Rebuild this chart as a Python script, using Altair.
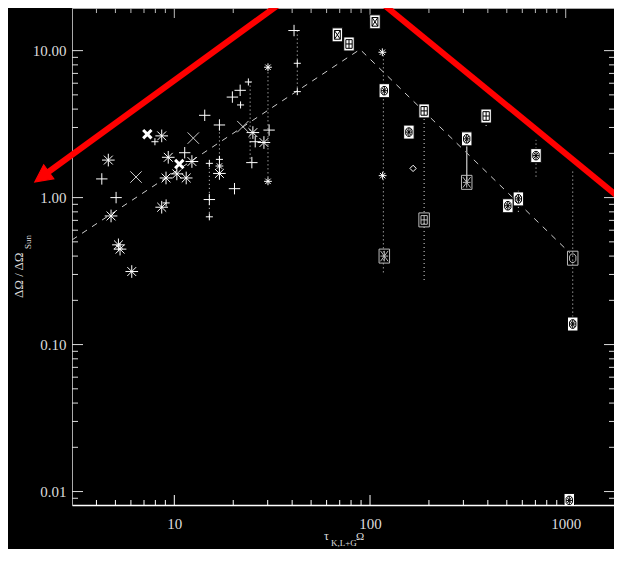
import altair as alt
import pandas as pd

# ---------------- data ----------------
plus_x = [4.26, 5.04, 11.3, 14.3, 15.1, 17.0, 19.8, 21.7, 20.3, 24.9, 25.9, 30.5, 40.9]
plus_y = [1.34, 1.00, 2.02, 3.63, 0.97, 3.12, 4.83, 5.37, 1.15, 1.73, 2.40, 2.88, 13.7]
plus_small_x = [7.96, 9.08, 15.1, 15.1, 17.0, 21.8, 23.9, 42.5, 42.5]
plus_small_y = [2.40, 0.92, 1.71, 0.74, 1.82, 4.27, 6.12, 8.2, 5.26]
star_x = [4.60, 4.75, 5.18, 5.28, 6.06, 8.62, 8.62, 9.31, 9.07, 10.3, 11.5, 12.3, 17.0, 25.2, 28.7]
star_y = [1.80, 0.75, 0.477, 0.446, 0.314, 2.63, 0.86, 1.88, 1.36, 1.45, 1.36, 1.76, 1.46, 2.77, 2.37]
star_small_x = [17.0, 30.1, 30.1, 115.6, 116.0]
star_small_y = [1.64, 7.71, 1.29, 9.75, 1.41]
cross_x = [6.37, 12.5, 22.4]
cross_y = [1.38, 2.54, 3.04]
cross_bold_x = [7.28, 10.6]
cross_bold_y = [2.70, 1.69]
box_x_x = [68.1, 106.0]
box_x_y = [12.8, 15.7]
box_grid_x = [78.1, 189.0, 392.0]
box_grid_y = [11.1, 3.89, 3.59]
box_oct_x = [118.3, 158.0, 312.0, 705.0, 573.0, 506.0, 1086.0, 1043.0]
box_oct_y = [5.34, 2.79, 2.51, 1.93, 0.98, 0.88, 0.138, 0.0087]
open_star_x = [118.3, 312.0]
open_star_y = [0.40, 1.27]
open_grid_x = [189.0]
open_grid_y = [0.705]
open_oct_x = [1086.0]
open_oct_y = [0.387]
diamond_x = [166.0]
diamond_y = [1.58]

range_x = [15.1, 17.0, 24.4, 30.1, 42.5, 117.0, 189.0, 392.0, 705.0, 573.0, 1086.0]
range_lo = [0.74, 1.46, 1.73, 1.29, 5.26, 0.31, 0.275, 3.07, 1.39, 0.80, 0.155]
range_hi = [1.71, 3.12, 6.12, 7.71, 13.7, 9.75, 3.89, 4.08, 2.47, 1.16, 1.53]
link_x = [312.0]
link_lo = [1.27]
link_hi = [2.51]

fit_x = [3.0, 88.9, 1050.0]
fit_y = [0.515, 10.2, 0.42]

x_major = [10, 100, 1000]
x_minor = [4, 5, 6, 7, 8, 9, 20, 30, 40, 50, 60, 70, 80, 90,
           200, 300, 400, 500, 600, 700, 800, 900]
y_major = [0.01, 0.1, 1, 10]
y_minor = [0.009, 0.02, 0.03, 0.04, 0.05, 0.06, 0.07, 0.08, 0.09,
           0.2, 0.3, 0.4, 0.5, 0.6, 0.7, 0.8, 0.9,
           2, 3, 4, 5, 6, 7, 8, 9]

# ---------------- layout / styles ----------------
W, H = 542, 497
FONT = "Liberation Serif"
xs = alt.Scale(type="log", domain=[3, 1765], nice=False)
ys = alt.Scale(type="log", domain=[0.0081, 19.5], nice=False)
xaxis = alt.Axis(values=x_major, format="d", ticks=False, grid=False, domain=True,
                 domainColor="#ffffff", domainWidth=1.5, labelColor="#dddddd",
                 labelFont=FONT, labelFontSize=15, labelPadding=11, title=None,
                 labelFlush=False, labelOverlap=False)
yaxis = alt.Axis(values=y_major, format=".2f", ticks=False, grid=False, domain=True,
                 domainColor="#aaaaaa", labelColor="#dddddd", labelFont=FONT,
                 labelFontSize=15, labelPadding=6, title=None, labelOverlap=False)


def X(f="x"):
    return alt.X(f + ":Q", scale=xs, axis=xaxis)


def Y(f="y"):
    return alt.Y(f + ":Q", scale=ys, axis=yaxis)


PLUS = "M-1,0L1,0M0,-1L0,1"
STAR = "M-1,0L1,0M0,-1L0,1M-0.7,-0.7L0.7,0.7M-0.7,0.7L0.7,-0.7"
XSH = "M-1,-1L1,1M-1,1L1,-1"
BOX = "M-0.75,-1H0.75V1H-0.75Z"
BOX_X = BOX + "M-0.42,-0.62H0.42V0.62H-0.42ZM-0.42,-0.62L0.42,0.62M0.42,-0.62L-0.42,0.62"
BOX_GRID = BOX + "M-0.45,-0.62H0.45V0.62H-0.45ZM0,-0.62V0.62M-0.45,0H0.45"
OCT = "M-0.2,-0.6L0.2,-0.6L0.45,-0.3L0.45,0.3L0.2,0.6L-0.2,0.6L-0.45,0.3L-0.45,-0.3Z"
BOX_OCT = BOX + OCT + "M0,-0.6V0.6M-0.45,0H0.45M-0.3,-0.4L0.3,0.4M-0.3,0.4L0.3,-0.4"
BOX_OPEN_STAR = BOX + "M0,-0.75V0.75M-0.55,0H0.55M-0.55,-0.75L0.55,0.75M-0.55,0.75L0.55,-0.75"
BOX_OPEN_OCT = BOX + OCT


def pts(px, py, shape, size, stroke="#ffffff", sw=1.0, fill=None):
    df = pd.DataFrame({"x": px, "y": py})
    if fill is None:
        m = alt.Chart(df).mark_point(shape=shape, size=size, stroke=stroke, strokeWidth=sw,
                                     filled=False, opacity=1, clip=True)
    else:
        m = alt.Chart(df).mark_point(shape=shape, size=size, stroke=stroke, strokeWidth=sw,
                                     filled=True, fill=fill, opacity=1, fillOpacity=1,
                                     strokeOpacity=1, clip=True)
    return m.encode(x=X(), y=Y())


one = pd.DataFrame({"k": [0]})

# fit line and ranges
fit = alt.Chart(pd.DataFrame({"x": fit_x, "y": fit_y})).mark_line(
    color="#cccccc", strokeWidth=1, strokeDash=[6, 6], clip=True).encode(x=X(), y=Y())
ranges = alt.Chart(pd.DataFrame({"x": range_x, "lo": range_lo, "hi": range_hi})).mark_rule(
    color="#dddddd", strokeWidth=1, strokeDash=[1, 3], clip=True).encode(
    x=X(), y=Y("lo"), y2="hi:Q")
links = alt.Chart(pd.DataFrame({"x": link_x, "lo": link_lo, "hi": link_hi})).mark_rule(
    color="#aaaaaa", strokeWidth=1.5, clip=True).encode(x=X(), y=Y("lo"), y2="hi:Q")


# axis ticks (inward, IDL style)
def xticks(vals, length, top, color):
    df = pd.DataFrame({"v": vals})
    if top:
        yy, yy2 = alt.value(0), alt.value(length)
    else:
        yy, yy2 = alt.value(H), alt.value(H - length)
    return alt.Chart(df).mark_rule(color=color, strokeWidth=1).encode(x=X("v"), y=yy, y2=yy2)


def yticks(vals, length, right, color):
    df = pd.DataFrame({"v": vals})
    if right:
        xx, xx2 = alt.value(W), alt.value(W - length)
    else:
        xx, xx2 = alt.value(0), alt.value(length)
    return alt.Chart(df).mark_rule(color=color, strokeWidth=1).encode(y=Y("v"), x=xx, x2=xx2)


ticks = [
    xticks(x_major, 10, False, "#ffffff"), xticks(x_minor, 5, False, "#ffffff"),
    xticks(x_major, 10, True, "#bbbbbb"), xticks(x_minor, 5, True, "#bbbbbb"),
    yticks(y_major, 11, False, "#dddddd"), yticks(y_minor, 6, False, "#dddddd"),
    yticks(y_major, 10, True, "#dddddd"), yticks(y_minor, 5, True, "#dddddd"),
]

markers = [
    pts(plus_x, plus_y, PLUS, 130),
    pts(plus_small_x, plus_small_y, PLUS, 50),
    pts(star_x, star_y, STAR, 160),
    pts(star_small_x, star_small_y, STAR, 60),
    pts(cross_x, cross_y, XSH, 130, stroke="#cccccc"),
    pts(cross_bold_x, cross_bold_y, XSH, 70, sw=3),
    pts(diamond_x, diamond_y, "diamond", 40),
    pts(open_star_x, open_star_y, BOX_OPEN_STAR, 196, stroke="#bbbbbb"),
    pts(open_grid_x, open_grid_y, BOX_GRID, 196, stroke="#bbbbbb"),
    pts(open_oct_x, open_oct_y, BOX_OPEN_OCT, 196, stroke="#bbbbbb"),
    pts(box_x_x, box_x_y, BOX_X, 196, stroke="#000000", fill="#ffffff"),
    pts(box_grid_x, box_grid_y, BOX_GRID, 196, stroke="#000000", fill="#ffffff"),
    pts(box_oct_x, box_oct_y, BOX_OCT, 196, stroke="#000000", fill="#ffffff"),
]


# axis titles
def txt(s, px, py, size, angle=0, color="#dddddd"):
    return alt.Chart(pd.DataFrame({"t": [s]})).mark_text(
        font=FONT, fontSize=size, color=color, align="left", baseline="alphabetic",
        angle=angle).encode(text="t:N", x=alt.value(px), y=alt.value(py))


titles = [
    txt("ΔΩ / ΔΩ", -49, 290, 13, angle=270),
    txt("Sun", -41, 241, 9, angle=270),
    txt("τ", 252, 532, 12),
    txt("K,L+G", 259, 538, 9),
    txt("Ω", 284, 532, 11),
]

# red annotation arrows
red_left = alt.Chart(one).mark_rule(color="#ff0000", strokeWidth=6).encode(
    x=alt.value(213), y=alt.value(-8), x2=alt.value(-25), y2=alt.value(165))
red_head = alt.Chart(one).mark_point(
    shape="M0,-1L0.85,0.7L-0.85,0.7Z", size=420, filled=True, fill="#ff0000",
    stroke="#ff0000", strokeWidth=1, opacity=1, angle=234).encode(
    x=alt.value(-29), y=alt.value(168))
red_right = alt.Chart(one).mark_rule(color="#ff0000", strokeWidth=6).encode(
    x=alt.value(306), y=alt.value(-8), x2=alt.value(560), y2=alt.value(200))

chart = alt.layer(
    fit, ranges, links, *ticks, *markers, *titles, red_left, red_head, red_right
).properties(
    width=W, height=H, background="#000000",
    padding={"left": 64, "top": 0, "right": 0, "bottom": 44},
    autosize=alt.AutoSizeParams(type="none"),
).configure_view(stroke="#aaaaaa", strokeWidth=1)

chart.save("out.html", embed_options={"renderer": "svg", "actions": False})
